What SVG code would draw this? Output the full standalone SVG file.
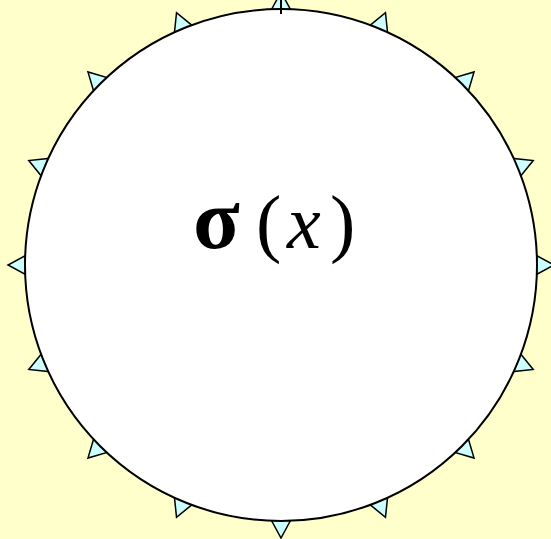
<svg xmlns="http://www.w3.org/2000/svg" width="551" height="539" viewBox="0 0 551 539">
<style>
.tri{fill:#CCFFFF;stroke:#000;stroke-width:1.5;stroke-linejoin:miter}
.circ{fill:#FFFFFF;stroke:#000;stroke-width:2}
.lbl{font-family:"Liberation Serif","Times New Roman",serif;font-size:76px;fill:#000}
</style>
<defs>
<polygon id="t" class="tri" points="271.5,9.5 290.5,9.5 281,-8"/>
</defs>
<rect width="551" height="539" fill="#FFFFCC"/>
<g id="ticks">
<use href="#t" transform="rotate(0 281 265)"/>
<use href="#t" transform="rotate(22.5 281 265)"/>
<use href="#t" transform="rotate(45 281 265)"/>
<use href="#t" transform="rotate(67.5 281 265)"/>
<use href="#t" transform="rotate(90 281 265)"/>
<use href="#t" transform="rotate(112.5 281 265)"/>
<use href="#t" transform="rotate(135 281 265)"/>
<use href="#t" transform="rotate(157.5 281 265)"/>
<use href="#t" transform="rotate(180 281 265)"/>
<use href="#t" transform="rotate(202.5 281 265)"/>
<use href="#t" transform="rotate(225 281 265)"/>
<use href="#t" transform="rotate(247.5 281 265)"/>
<use href="#t" transform="rotate(270 281 265)"/>
<use href="#t" transform="rotate(292.5 281 265)"/>
<use href="#t" transform="rotate(315 281 265)"/>
<use href="#t" transform="rotate(337.5 281 265)"/>
</g>
<g id="node">
<circle class="circ" cx="281" cy="265" r="256"/>
<text class="lbl" y="248"><tspan x="193" font-weight="bold" font-size="86">σ</tspan><tspan x="256">(</tspan><tspan x="287" font-style="italic">x</tspan><tspan x="330">)</tspan></text>
</g>
<g id="connectors">
<line x1="281" y1="0" x2="281" y2="14" stroke="#000" stroke-width="2"/>
</g>
</svg>
